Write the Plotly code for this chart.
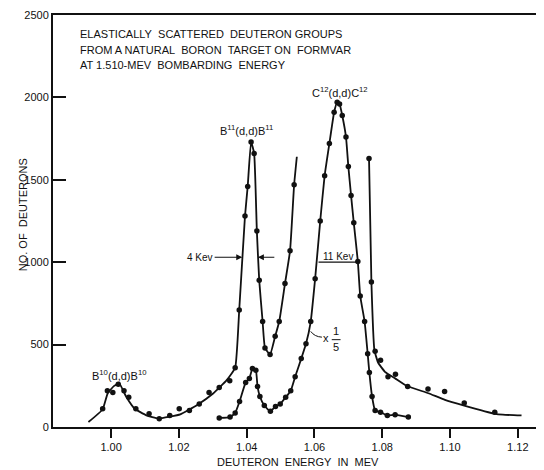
import plotly.graph_objects as go

NB = "\u00a0"

# Main curve: B10 and B11 groups
PA_X = [0.9975, 0.9989, 1.0005, 1.0021, 1.0038, 1.0052, 1.0073, 1.0112, 1.0142, 1.0173,
        1.0201, 1.0231, 1.0260, 1.0289, 1.0319, 1.0350, 1.0366, 1.0378, 1.0395, 1.0403,
        1.0413, 1.0422, 1.0430, 1.0437, 1.0447, 1.0454, 1.0469, 1.0484, 1.0496, 1.0513,
        1.0528, 1.0540]
PA_Y = [110, 220, 210, 260, 220, 180, 110, 80, 50, 70,
        110, 100, 140, 210, 240, 280, 360, 710, 1280, 1460,
        1730, 1660, 1190, 890, 640, 480, 440, 550, 640, 870,
        1070, 1470]
# Drawn curve for main group
LA_X = [0.9933, 0.9975, 0.9990, 1.0008, 1.0024, 1.0045, 1.0069, 1.0104, 1.0139, 1.0174,
        1.0204, 1.0253, 1.0301, 1.0341, 1.0366, 1.0378, 1.0395, 1.0403, 1.0413, 1.0422,
        1.0430, 1.0437, 1.0447, 1.0454, 1.0469, 1.0484, 1.0496, 1.0513, 1.0528, 1.0540,
        1.0548]
LA_Y = [30, 107, 205, 248, 264, 182, 112, 71, 51, 63,
        77, 132, 203, 284, 360, 710, 1280, 1460, 1730, 1660,
        1190, 890, 640, 480, 440, 550, 640, 870, 1070, 1470,
        1640]

# x 1/5 curve: B11 (reduced) and C12 group
PB_X = [1.0319, 1.0351, 1.0366, 1.0379, 1.0397, 1.0408, 1.0417, 1.0427, 1.0432, 1.0439,
        1.0452, 1.0470, 1.0485, 1.0499, 1.0515, 1.0530, 1.0543, 1.0561, 1.0575, 1.0589,
        1.0602, 1.0617, 1.0630, 1.0644, 1.0658, 1.0667, 1.0674, 1.0682, 1.0693, 1.0700,
        1.0708, 1.0716, 1.0728, 1.0735, 1.0748, 1.0757, 1.0762, 1.0770, 1.0779, 1.0795,
        1.0815, 1.0838, 1.0877]
PB_Y = [55, 60, 85, 155, 270, 295, 355, 345, 245, 185,
        130, 95, 125, 140, 180, 220, 305, 415, 505, 640,
        900, 1250, 1525, 1720, 1910, 1970, 1960, 1890, 1760, 1580,
        1405, 1240, 1005, 795, 640, 445, 330, 185, 100, 90,
        70, 75, 60]

# Right tail curve
PC_X = [1.0761, 1.0768, 1.0779, 1.0795, 1.0817, 1.0839, 1.0875, 1.0935, 1.0984, 1.1042, 1.1132]
PC_Y = [1630, 880, 460, 405, 305, 320, 245, 230, 215, 145, 90]
LC_X = [1.0761, 1.0768, 1.0777, 1.0788, 1.0808, 1.0838, 1.0872, 1.0936, 1.0985, 1.1042, 1.1133, 1.1156, 1.1211]
LC_Y = [1630, 880, 465, 390, 335, 295, 250, 205, 165, 130, 80, 75, 70]

X_TICKS = [1.00, 1.02, 1.04, 1.06, 1.08, 1.10, 1.12]
X_TICK_TEXT = ["1.00", "1.02", "1.04", "1.06", "1.08", "1.10", "1.12"]
Y_TICKS = [0, 500, 1000, 1500, 2000, 2500]
Y_TICK_TEXT = ["0", "500", "1000", "1500", "2000", "2500"]

FONT = "Liberation Sans"
BLACK = "#111111"

fig = go.Figure()

line_style = dict(color=BLACK, width=1.8, shape="spline", smoothing=0.4)
mk = dict(color=BLACK, size=5.5)

fig.add_trace(go.Scatter(x=LA_X, y=LA_Y, mode="lines", line=line_style, hoverinfo="skip"))
fig.add_trace(go.Scatter(x=PA_X, y=PA_Y, mode="markers", marker=mk))
fig.add_trace(go.Scatter(x=PB_X, y=PB_Y, mode="lines+markers", line=line_style, marker=mk))
fig.add_trace(go.Scatter(x=LC_X, y=LC_Y, mode="lines", line=line_style, hoverinfo="skip"))
fig.add_trace(go.Scatter(x=PC_X, y=PC_Y, mode="markers", marker=mk))

ann_font = dict(family=FONT, size=11, color=BLACK)

title_lines = [
    f"ELASTICALLY{NB}{NB}SCATTERED{NB}{NB}DEUTERON GROUPS",
    f"FROM A NATURAL{NB}{NB}BORON{NB}{NB}TARGET ON{NB}{NB}FORMVAR",
    f"AT 1.510-MEV{NB}{NB}BOMBARDING{NB}{NB}ENERGY",
]
for t, yp in zip(title_lines, [0.9545, 0.9162, 0.8785]):
    fig.add_annotation(x=0.0513, y=yp, xref="paper", yref="paper", text=t,
                       showarrow=False, xanchor="left", yanchor="middle", font=ann_font)

labels = [
    ("B<sup>10</sup>(d,d)B<sup>10</sup>", 1.0023, 315),
    ("B<sup>11</sup>(d,d)B<sup>11</sup>", 1.0398, 1800),
    ("C<sup>12</sup>(d,d)C<sup>12</sup>", 1.0675, 2030),
]
for t, x, y in labels:
    fig.add_annotation(x=x, y=y, text=t, showarrow=False, font=ann_font,
                       xanchor="center", yanchor="middle")

# 4 Kev width marker
fig.add_annotation(x=1.0262, y=1030, text="4 Kev", showarrow=False, font=dict(family=FONT, size=10, color=BLACK))
fig.add_annotation(x=1.0387, y=1030, ax=1.0301, ay=1030, axref="x", ayref="y", text="",
                   showarrow=True, arrowhead=2, arrowsize=1, arrowwidth=1.2, arrowcolor=BLACK)
fig.add_annotation(x=1.0433, y=1030, ax=1.0486, ay=1030, axref="x", ayref="y", text="",
                   showarrow=True, arrowhead=2, arrowsize=1, arrowwidth=1.2, arrowcolor=BLACK)

# 11 Kev width marker
fig.add_shape(type="line", x0=1.0612, x1=1.0728, y0=1000, y1=1000, line=dict(color=BLACK, width=1.2))
fig.add_annotation(x=1.0668, y=1000, text="11 Kev", showarrow=False, yanchor="bottom", yshift=-2,
                   font=dict(family=FONT, size=10, color=BLACK))

# x 1/5 label
fig.add_shape(type="path", path="M 1.0589,580 Q 1.0600,548 1.0622,545", line=dict(color=BLACK, width=1))
fig.add_annotation(x=1.0633, y=542, text="x", showarrow=False, font=ann_font)
fig.add_annotation(x=1.0664, y=580, text="1", showarrow=False, font=ann_font)
fig.add_shape(type="line", x0=1.0651, x1=1.0677, y0=530, y1=530, line=dict(color=BLACK, width=1))
fig.add_annotation(x=1.0664, y=487, text="5", showarrow=False, font=ann_font)

# axis titles
fig.add_annotation(x=-0.078, y=0.514, xref="paper", yref="paper",
                   text=f"NO. OF{NB}{NB}DEUTERONS",
                   textangle=-90, showarrow=False, font=ann_font)
fig.add_annotation(x=0.503, y=-0.0857, xref="paper", yref="paper",
                   text=f"DEUTERON{NB}{NB}ENERGY{NB}{NB}IN{NB}{NB}MEV",
                   showarrow=False, font=ann_font, yanchor="middle")

# The page body has an 8px default margin; size the figure so the plot area
# lands where the reference has it inside the 544x470 window.
fig.update_layout(
    width=536, height=462,
    margin=dict(l=45, r=4, t=7, b=43, autoexpand=False),
    paper_bgcolor="white", plot_bgcolor="white",
    showlegend=False,
    font=dict(family=FONT, size=11, color=BLACK),
)
fig.update_xaxes(range=[0.98285, 1.12655], tickvals=X_TICKS, ticktext=X_TICK_TEXT,
                 showgrid=False, zeroline=False, showline=True, linewidth=2, linecolor=BLACK,
                 mirror=True, ticks="outside", ticklen=9, tickwidth=1.5, tickcolor=BLACK,
                 tickfont=dict(family=FONT, size=11, color=BLACK))
fig.update_yaxes(range=[0, 2500], tickvals=Y_TICKS, ticktext=Y_TICK_TEXT,
                 showgrid=False, zeroline=False, showline=True, linewidth=2, linecolor=BLACK,
                 mirror=True, ticks="inside", ticklen=13, tickwidth=1.5, tickcolor=BLACK,
                 tickfont=dict(family=FONT, size=11, color=BLACK))

fig.write_html("out.html")
